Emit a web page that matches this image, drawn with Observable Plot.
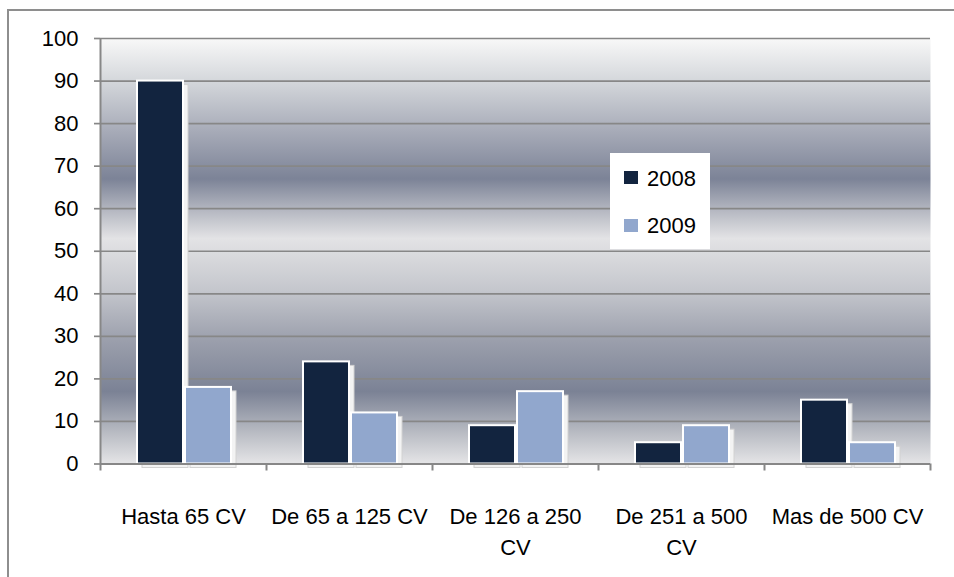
<!DOCTYPE html>
<html>
<head>
<meta charset="utf-8">
<script src="https://cdn.jsdelivr.net/npm/d3@7"></script>
<script src="https://cdn.jsdelivr.net/npm/@observablehq/plot@0.6"></script>
<style>
  html, body { margin: 0; padding: 0; background: #fff; overflow: hidden; }
  #wrap { position: relative; width: 954px; height: 577px; font-family: "Liberation Sans", Arial, sans-serif; }
  #border { position: absolute; left: 7px; top: 9px; width: 1000px; height: 700px;
            border-left: 2px solid #8e8e8e; border-top: 2px solid #8e8e8e; pointer-events: none; }
  #chart { position: absolute; left: 0; top: 0; }
  #legend { position: absolute; left: 610px; top: 153px; width: 100px; height: 96px; background: #fff; }
  .sw { position: absolute; left: 14px; width: 14px; height: 13px; }
  .lt { position: absolute; left: 37px; font-size: 22px; line-height: 22px; color: #000; }
</style>
</head>
<body>
<div id="wrap">
  <div id="chart"></div>
  <div id="border"></div>
  <div id="legend"></div>
</div>
<script>
// ---- data ----
const categories = ["Hasta 65 CV", "De 65 a 125 CV", "De 126 a 250 CV", "De 251 a 500 CV", "Mas de 500 CV"];
const tickLabels = ["Hasta 65 CV", "De 65 a 125 CV", "De 126 a 250\nCV", "De 251 a 500\nCV", "Mas de 500 CV"];
const years = ["2008", "2009"];
const values2008 = [90, 24, 9, 5, 15];
const values2009 = [18, 12, 17, 9, 5];
const yTicks = [0, 10, 20, 30, 40, 50, 60, 70, 80, 90, 100];

// ---- styles ----
const colors = ["#12243f", "#91a7cd"];
const W = 954, H = 577, ML = 100, MR = 24, MT = 38, MB = 113.5;
const half = (W - ML - MR) / categories.length / 2;
const gradStops = [
  [0.00, "#f8f8f8"], [0.10, "#d4d7db"], [0.22, "#a6aab7"], [0.33, "#7c8397"],
  [0.40, "#b2b5bf"], [0.47, "#e3e3e5"], [0.59, "#c5c7cd"], [0.71, "#9b9fac"],
  [0.83, "#7b8295"], [0.92, "#b5b8c0"], [1.00, "#e5e5e7"]
];

const rows2008 = categories.map((c, i) => ({cat: c, year: years[0], value: values2008[i]}));
const rows2009 = categories.map((c, i) => ({cat: c, year: years[1], value: values2009[i]}));

const inset2008 = {insetLeft: 37, insetRight: 83};
const inset2009 = {insetLeft: 85, insetRight: 35};

function shadow(rows, ins) {
  return Plot.barY(rows, {x: "cat", y: "value", ...ins, dx: 5, dy: 4,
    fill: "#f3f3f3", stroke: "#d2d2d2", strokeWidth: 1});
}
function bars(rows, ins, color) {
  return Plot.barY(rows, {x: "cat", y: "value", ...ins, fill: color, stroke: "#fff", strokeWidth: 2});
}

const chart = Plot.plot({
  width: W, height: H,
  marginLeft: ML, marginRight: MR, marginTop: MT, marginBottom: MB,
  style: {fontFamily: "Liberation Sans, Arial, sans-serif", fontSize: "22px", color: "#000", background: "transparent", overflow: "visible"},
  x: {type: "band", domain: categories, padding: 0, axis: null},
  y: {domain: [0, 100], axis: null},
  marks: [
    Plot.frame({fill: "url(#bgGrad)", stroke: null}),
    Plot.ruleY(yTicks, {stroke: "#878787", strokeWidth: 1.7}),
    Plot.axisY({ticks: yTicks, tickSize: 6, tickPadding: 16, stroke: "#878787", strokeWidth: 1.7, fill: "#000", fontSize: 22, label: null}),
    shadow(rows2008, inset2008),
    shadow(rows2009, inset2009),
    bars(rows2008, inset2008, colors[0]),
    bars(rows2009, inset2009, colors[1]),
    Plot.ruleX([categories[0]], {dx: -half, stroke: "#878787", strokeWidth: 2}),
    Plot.ruleY([0], {stroke: "#878787", strokeWidth: 2}),
    Plot.ruleX(categories, {y1: 0, y2: 0, dx: -half, insetBottom: -7, stroke: "#878787", strokeWidth: 2}),
    Plot.ruleX([categories[categories.length - 1]], {y1: 0, y2: 0, dx: half, insetBottom: -7, stroke: "#878787", strokeWidth: 2}),
    Plot.text(categories, {x: d => d, text: (d, i) => tickLabels[i], frameAnchor: "bottom", lineAnchor: "top",
      dy: 38, lineHeight: 1.41, fontSize: 22, fill: "#000"})
  ]
});

// gradient background definition
const svg = d3.select(chart);
const defs = svg.insert("defs", ":first-child");
const lg = defs.append("linearGradient").attr("id", "bgGrad")
  .attr("x1", 0).attr("y1", 0).attr("x2", 0).attr("y2", 1);
gradStops.forEach(([o, c]) => lg.append("stop").attr("offset", o).attr("stop-color", c));

document.getElementById("chart").appendChild(chart);

// legend
const legend = document.getElementById("legend");
const swTops = [18, 66];
const txtTops = [15, 62];
years.forEach((y, i) => {
  const sw = document.createElement("div");
  sw.className = "sw"; sw.style.top = swTops[i] + "px"; sw.style.background = colors[i];
  legend.appendChild(sw);
  const t = document.createElement("div");
  t.className = "lt"; t.style.top = txtTops[i] + "px"; t.textContent = y;
  legend.appendChild(t);
});
</script>
</body>
</html>
